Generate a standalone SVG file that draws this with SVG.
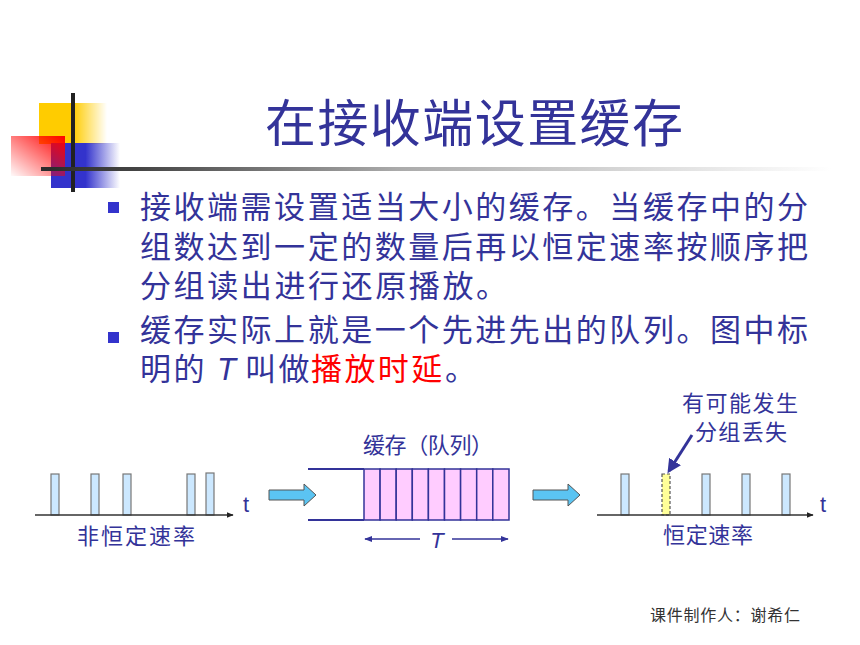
<svg xmlns="http://www.w3.org/2000/svg" width="860" height="645" viewBox="0 0 860 645">
<defs>
<linearGradient id="gY" x1="0" y1="0" x2="1" y2="0"><stop offset="0" stop-color="#ffcc00"/><stop offset="0.5" stop-color="#ffcc00"/><stop offset="1" stop-color="#ffcc00" stop-opacity="0"/></linearGradient>
<linearGradient id="gB" x1="0" y1="0" x2="1" y2="0"><stop offset="0" stop-color="#3333cc"/><stop offset="0.5" stop-color="#3333cc"/><stop offset="1" stop-color="#3333cc" stop-opacity="0"/></linearGradient>
<linearGradient id="gR" x1="1" y1="0" x2="0" y2="1"><stop offset="0" stop-color="#ff0000"/><stop offset="1" stop-color="#ff0000" stop-opacity="0.02"/></linearGradient>
<linearGradient id="gL" x1="0" y1="0" x2="1" y2="0"><stop offset="0" stop-color="#2a2a2a"/><stop offset="0.12" stop-color="#444"/><stop offset="0.45" stop-color="#aaa"/><stop offset="1" stop-color="#fff"/></linearGradient>
<marker id="ah" viewBox="0 0 10 10" refX="9" refY="5" markerWidth="7" markerHeight="7" orient="auto-start-reverse" markerUnits="userSpaceOnUse"><path d="M0,1 L10,5 L0,9 z" fill="#222"/></marker>
<marker id="ahB" viewBox="0 0 10 10" refX="9" refY="5" markerWidth="8" markerHeight="8" orient="auto-start-reverse" markerUnits="userSpaceOnUse"><path d="M0,1 L10,5 L0,9 z" fill="#333399"/></marker>
<marker id="ahL" viewBox="0 0 10 10" refX="8" refY="5" markerWidth="14" markerHeight="14" orient="auto" markerUnits="userSpaceOnUse"><path d="M0,0 L10,5 L0,10 z" fill="#333399"/></marker>
</defs>
<style>
.t{font-family:"Liberation Sans","Noto Sans CJK SC",sans-serif;fill:#333399}
.body{font-size:31px}
.lab{font-size:22px}
.pulse{fill:#cce8ff;stroke:#777;stroke-width:1.2}
.axis{stroke:#333;stroke-width:1.5;fill:none}
.blk{fill:#5bc4f2;stroke:#555;stroke-width:1}
.cell{fill:#ffccff;stroke:#333399;stroke-width:1.5}
.q{stroke:#333399;stroke-width:1.8;fill:none}
</style>
<rect width="860" height="645" fill="#fff"/>
<g id="logo">
<rect x="39" y="103" width="68" height="41" fill="url(#gY)"/>
<rect x="51" y="143" width="69" height="45" fill="url(#gB)"/>
<rect x="11" y="136" width="54" height="40" fill="url(#gR)"/>
<rect x="71" y="93" width="4" height="99" fill="#222"/>
<rect x="41" y="167" width="790" height="4" fill="url(#gL)"/>
</g>
<g id="title"><text class="t" x="265" y="142" font-size="51" textLength="418" lengthAdjust="spacing">在接收端设置缓存</text></g>
<g id="bullets">
<rect x="108" y="202" width="11" height="11" fill="#3333cc"/>
<rect x="108" y="332" width="11" height="11" fill="#3333cc"/>
<text class="t body" x="140" y="218" textLength="668" lengthAdjust="spacing">接收端需设置适当大小的缓存。当缓存中的分</text>
<text class="t body" x="140" y="258" textLength="668" lengthAdjust="spacing">组数达到一定的数量后再以恒定速率按顺序把</text>
<text class="t body" x="140" y="297" textLength="367" lengthAdjust="spacing">分组读出进行还原播放。</text>
<text class="t body" x="140" y="341" textLength="668" lengthAdjust="spacing">缓存实际上就是一个先进先出的队列。图中标</text>
<text class="t body" y="380"><tspan x="140" letter-spacing="2.4">明的</tspan><tspan x="217" font-style="italic">T</tspan><tspan x="245" letter-spacing="2.4">叫做</tspan><tspan x="311" fill="#ff0000" letter-spacing="2.4">播放时延</tspan><tspan x="445">。</tspan></text>
</g>
<g id="input">
<rect class="pulse" x="51" y="474" width="8" height="41"/>
<rect class="pulse" x="91" y="474" width="8" height="41"/>
<rect class="pulse" x="123" y="474" width="8" height="41"/>
<rect class="pulse" x="187" y="474" width="8" height="41"/>
<rect class="pulse" x="206" y="473" width="8" height="42"/>
<text class="t lab" x="243" y="512">t</text>
<text class="t lab" x="77" y="544" textLength="118" lengthAdjust="spacing">非恒定速率</text>
</g>
<g id="buffer">
<text class="t lab" x="363" y="453" textLength="130" lengthAdjust="spacing">缓存（队列）</text>
<line class="q" x1="308" y1="469" x2="364" y2="469"/>
<line class="q" x1="308" y1="520" x2="364" y2="520"/>
<rect class="cell" x="364" y="469" width="16.1" height="51"/>
<rect class="cell" x="380.1" y="469" width="16.1" height="51"/>
<rect class="cell" x="396.2" y="469" width="16.1" height="51"/>
<rect class="cell" x="412.3" y="469" width="16.1" height="51"/>
<rect class="cell" x="428.4" y="469" width="16.1" height="51"/>
<rect class="cell" x="444.5" y="469" width="16.1" height="51"/>
<rect class="cell" x="460.6" y="469" width="16.1" height="51"/>
<rect class="cell" x="476.7" y="469" width="16.1" height="51"/>
<rect class="cell" x="492.8" y="469" width="16.2" height="51"/>
<text class="t lab" x="437" y="548" text-anchor="middle" font-style="italic">T</text>
</g>
<g id="output">
<rect class="pulse" x="621" y="474" width="8" height="41"/>
<rect x="662" y="474" width="8" height="41" fill="#ffff99" stroke="#555" stroke-width="1.2" stroke-dasharray="3,2"/>
<rect class="pulse" x="702" y="474" width="8" height="41"/>
<rect class="pulse" x="742" y="474" width="8" height="41"/>
<rect class="pulse" x="782" y="474" width="8" height="41"/>
<text class="t lab" x="820" y="512">t</text>
<text class="t lab" x="663" y="543" textLength="90" lengthAdjust="spacing">恒定速率</text>
<text class="t lab" x="682" y="411" textLength="116" lengthAdjust="spacing">有可能发生</text>
<text class="t lab" x="695" y="440" textLength="92" lengthAdjust="spacing">分组丢失</text>
</g>
<g id="connectors">
<line class="axis" x1="35" y1="515" x2="233" y2="515" marker-end="url(#ah)"/>
<line class="axis" x1="597" y1="515" x2="813" y2="515" marker-end="url(#ah)"/>
<path class="blk" d="M269,490 H304 V484 L316,495 L304,506 V500 H269 Z"/>
<path class="blk" d="M533,490 H568 V484 L580,495 L568,506 V500 H533 Z"/>
<line x1="420" y1="539" x2="365" y2="539" stroke="#333399" stroke-width="1.3" marker-end="url(#ahB)"/>
<line x1="452" y1="539" x2="508" y2="539" stroke="#333399" stroke-width="1.3" marker-end="url(#ahB)"/>
<line x1="692" y1="435" x2="669" y2="471" stroke="#333399" stroke-width="3" marker-end="url(#ahL)"/>
</g>
<g id="footer"><text x="650" y="621" font-family="'Noto Sans CJK SC',sans-serif" font-size="16" fill="#333" textLength="150" lengthAdjust="spacing">课件制作人：谢希仁</text></g>
</svg>
